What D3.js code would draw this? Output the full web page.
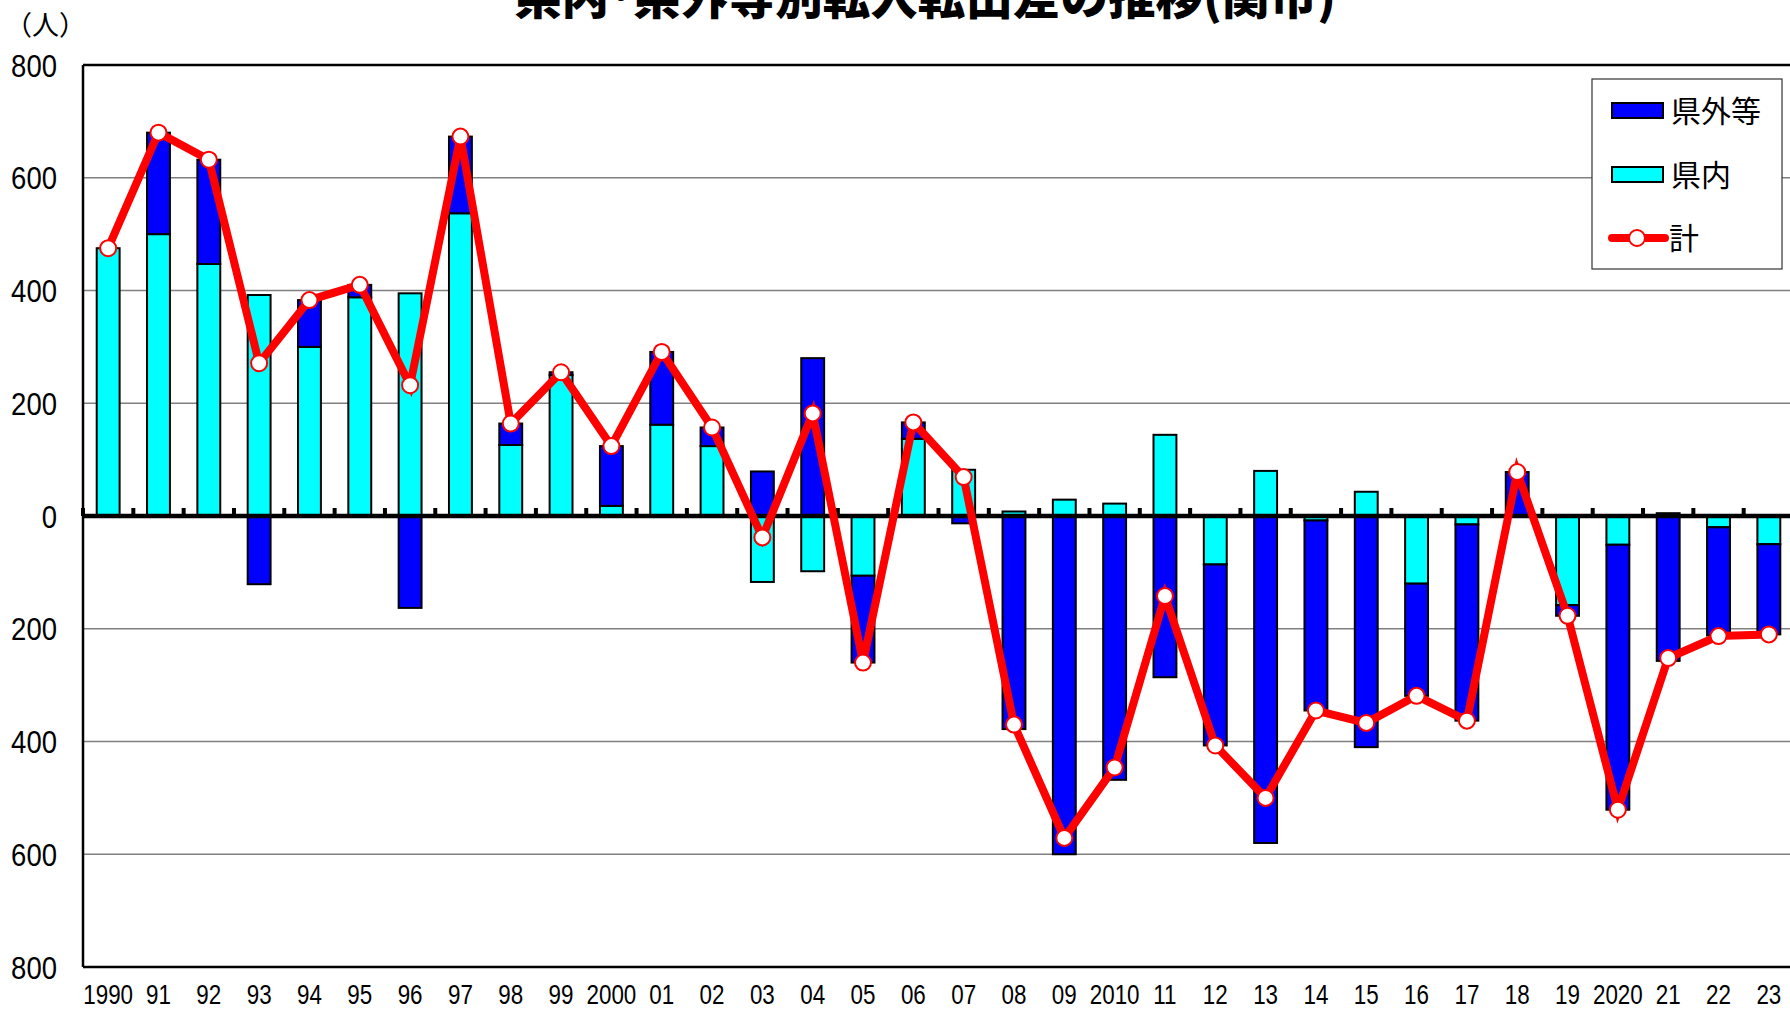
<!DOCTYPE html>
<html>
<head>
<meta charset="utf-8">
<script src="https://cdn.jsdelivr.net/npm/d3@7"></script>
<style>
  body { margin: 0; background: #fff; }
  svg { display: block; }
  .num { font-family: "Liberation Sans", Arial, sans-serif; }
  .jp { font-family: "Noto Sans CJK JP", sans-serif; }
</style>
</head>
<body>
<div id="chart"></div>
<script>
// data (人)
const years = ["1990","91","92","93","94","95","96","97","98","99",
  "2000","01","02","03","04","05","06","07","08","09",
  "2010","11","12","13","14","15","16","17","18","19",
  "2020","21","22","23"];
const kennai = [475, 500, 447, 392, 300, 388, 395, 537, 126, 250,
  18, 162, 124, -117, -98, -106, 137, 82, 8, 29,
  22, 144, -86, 80, -8, 43, -120, -15, 0, -158,
  -51, 5, -20, -50];
const kengai = [0, 180, 185, -121, 83, 22, -163, 136, 38, 5,
  106, 129, 33, 79, 280, -154, 29, -13, -378, -600,
  -468, -286, -321, -580, -337, -410, -199, -348, 78, -19,
  -470, -257, -192, -160];
const total = [475, 680, 632, 271, 383, 410, 232, 673, 164, 255,
  124, 291, 157, -38, 182, -260, 166, 69, -370, -571,
  -446, -142, -407, -500, -345, -367, -319, -363, 78, -177,
  -521, -252, -213, -210];
const yTicks = [-800, -600, -400, -200, 0, 200, 400, 600, 800];
const seriesNames = ["県外等", "県内", "計"];

const margin = {top: 65, right: -4, bottom: 43, left: 83},
  W = 1790, H = 1010,
  width = W - margin.left - margin.right,
  height = H - margin.top - margin.bottom;

const svg = d3.select("#chart").append("svg")
  .attr("width", W).attr("height", H)
  .style("overflow", "hidden");

const g = svg.append("g")
  .attr("transform", `translate(${margin.left}, ${margin.top})`);

const rows = years.map((yr, i) => ({year: yr, kennai: kennai[i], kengai: kengai[i], total: total[i]}));

const x = d3.scaleBand().domain(years).range([0, width]).paddingInner(0.545).paddingOuter(0.2725);
const y = d3.scaleLinear().domain([-800, 800]).range([height, 0]);

// gridlines
g.append("g").selectAll("line")
  .data(yTicks.filter(d => d !== 0 && Math.abs(d) !== 800))
  .join("line")
    .attr("x1", 0).attr("x2", width)
    .attr("y1", d => y(d)).attr("y2", d => y(d))
    .attr("stroke", "#808080").attr("stroke-width", 1.5);

// stacked bars, 県内 next to the axis
const stack = d3.stack().keys(["kennai", "kengai"]).offset(d3.stackOffsetDiverging);
const colors = {kennai: "#00FFFF", kengai: "#0000FF"};
g.append("g").selectAll("g")
  .data(stack(rows))
  .join("g")
    .attr("fill", d => colors[d.key])
  .selectAll("rect")
  .data(d => d.filter(p => p[1] - p[0] !== 0))
  .join("rect")
    .attr("x", d => x(d.data.year))
    .attr("width", x.bandwidth())
    .attr("y", d => y(d[1]))
    .attr("height", d => y(d[0]) - y(d[1]))
    .attr("stroke", "#000").attr("stroke-width", 2);

// plot frame
g.append("line").attr("x1", 0).attr("x2", 0).attr("y1", 0).attr("y2", height)
  .attr("stroke", "#000").attr("stroke-width", 2.5);
g.append("line").attr("x1", 0).attr("x2", width + 10).attr("y1", 0).attr("y2", 0)
  .attr("stroke", "#000").attr("stroke-width", 2.5);
g.append("line").attr("x1", 0).attr("x2", width + 10).attr("y1", height).attr("y2", height)
  .attr("stroke", "#000").attr("stroke-width", 2.5);

// zero line with ticks on the category boundaries
g.append("line").attr("x1", 0).attr("x2", width + 10).attr("y1", y(0)).attr("y2", y(0))
  .attr("stroke", "#000").attr("stroke-width", 4.5);
const step = x.step();
g.append("g").selectAll("rect")
  .data(d3.range(years.length + 1))
  .join("rect")
    .attr("x", i => i * step - 2)
    .attr("y", y(0) - 8)
    .attr("width", 4).attr("height", 8)
    .attr("fill", "#000");

// y axis labels (absolute values), narrowed a bit like the original
g.append("g").selectAll("text")
  .data(yTicks)
  .join("text")
    .attr("class", "num")
    .attr("transform", d => `translate(-26, ${y(d)}) scale(0.86, 1)`)
    .attr("text-anchor", "end")
    .attr("dy", "0.36em")
    .style("font-size", "32px")
    .text(d => Math.abs(d));

// x labels
g.append("g").selectAll("text")
  .data(years)
  .join("text")
    .attr("class", "num")
    .attr("transform", d => `translate(${x(d) + x.bandwidth() / 2}, ${height + 37}) scale(0.8, 1)`)
    .attr("text-anchor", "middle")
    .style("font-size", "28px")
    .text(d => d);

// total line
const line = d3.line()
  .x(d => x(d.year) + x.bandwidth() / 2)
  .y(d => y(d.total));
g.append("path")
  .datum(rows)
  .attr("fill", "none")
  .attr("stroke", "#FF0000")
  .attr("stroke-width", 8)
  .attr("d", line);
g.append("g").selectAll("circle")
  .data(rows)
  .join("circle")
    .attr("cx", d => x(d.year) + x.bandwidth() / 2)
    .attr("cy", d => y(d.total))
    .attr("r", 8)
    .attr("fill", "#fff")
    .attr("stroke", "#FF0000").attr("stroke-width", 2);

// title and unit
svg.append("text")
  .attr("class", "jp")
  .attr("x", 925).attr("y", 14)
  .attr("text-anchor", "middle")
  .attr("textLength", 822).attr("lengthAdjust", "spacingAndGlyphs")
  .style("font-size", "48px").style("font-weight", "900")
  .text("県内･県外等別転入転出差の推移(関市)");
svg.append("text")
  .attr("class", "jp")
  .attr("x", 5).attr("y", 35)
  .style("font-size", "27px")
  .text("（人）");

// legend
const lg = svg.append("g").attr("transform", "translate(1592, 79)");
lg.append("rect").attr("width", 190).attr("height", 190)
  .attr("fill", "#fff").attr("stroke", "#333").attr("stroke-width", 1.2);
const lgRowY = [32, 96, 159];
lg.append("rect").attr("x", 20).attr("y", lgRowY[0] - 8).attr("width", 51).attr("height", 15)
  .attr("fill", colors.kengai).attr("stroke", "#000").attr("stroke-width", 2);
lg.append("rect").attr("x", 20).attr("y", lgRowY[1] - 8).attr("width", 51).attr("height", 15)
  .attr("fill", colors.kennai).attr("stroke", "#000").attr("stroke-width", 2);
lg.append("line").attr("x1", 20).attr("x2", 73).attr("y1", lgRowY[2]).attr("y2", lgRowY[2])
  .attr("stroke", "#FF0000").attr("stroke-width", 8).attr("stroke-linecap", "round");
lg.append("circle").attr("cx", 45).attr("cy", lgRowY[2]).attr("r", 8)
  .attr("fill", "#fff").attr("stroke", "#FF0000").attr("stroke-width", 2);
lg.selectAll("text.lab")
  .data(seriesNames)
  .join("text")
    .attr("class", "jp lab")
    .attr("x", (d, i) => i === 2 ? 77 : 79)
    .attr("y", (d, i) => lgRowY[i])
    .attr("dy", "0.36em")
    .style("font-size", "30px")
    .text(d => d);
</script>
</body>
</html>
